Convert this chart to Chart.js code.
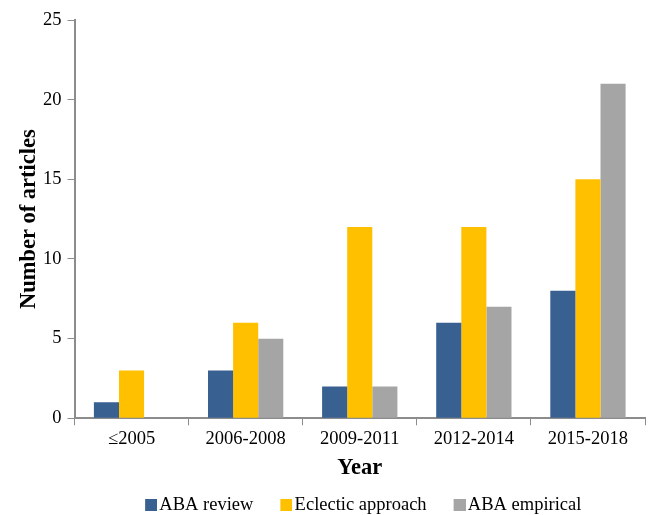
<!DOCTYPE html>
<html>
<head>
<meta charset="utf-8">
<script src="https://cdn.jsdelivr.net/npm/chart.js@4/dist/chart.umd.min.js"></script>
<style>
	body { margin: 0; background: #fff; }
	#wrap { width: 649px; height: 515px; }
</style>
</head>
<body>
<div id="wrap"><canvas id="chart1"></canvas></div>
<script>
const years = ['≤2005', '2006-2008', '2009-2011', '2012-2014', '2015-2018']
const abaReview = [1, 3, 2, 6, 8]
const eclectic = [3, 6, 12, 12, 15]
const abaEmpirical = [0, 5, 2, 7, 21]
const yTicks = [0, 5, 10, 15, 20, 25]

const serif = "'Liberation Serif', 'Times New Roman', serif"
const axisGray = '#8c8c8c'
const seriesColors = ['#386192', '#ffc000', '#a5a5a5']

// legend square drawn close to its text, like the original
function legendSquare(color) {
	const c = document.createElement('canvas')
	c.width = 26
	c.height = 12
	const ctx = c.getContext('2d')
	ctx.fillStyle = color
	ctx.fillRect(14, 0, 12, 12)
	return c
}

const chartData = {
	labels: years,
	datasets: [
		{ label: 'ABA review', data: abaReview, backgroundColor: seriesColors[0] },
		{ label: 'Eclectic approach', data: eclectic, backgroundColor: seriesColors[1] },
		{ label: 'ABA empirical', data: abaEmpirical, backgroundColor: seriesColors[2] },
	],
}

// center the legend under the plot area instead of the whole canvas
const legendUnderPlot = {
	id: 'legendUnderPlot',
	afterLayout(chart) {
		chart.legend.left = chart.chartArea.left
		chart.legend.right = chart.chartArea.right
	},
}

const optionsData = {
	responsive: true,
	maintainAspectRatio: false,
	animation: false,
	datasets: {
		bar: { categoryPercentage: 0.66, barPercentage: 1 },
	},
	layout: { padding: { top: 20, right: 4, left: 16, bottom: -9 } },
	plugins: {
		legend: {
			position: 'bottom',
			labels: {
				font: { family: serif, size: 18.5 },
				color: '#000',
				usePointStyle: true,
				boxWidth: 12,
				boxHeight: 12,
				padding: 20,
				generateLabels: chart => {
					const items = Chart.defaults.plugins.legend.labels.generateLabels(chart)
					items.forEach((item, i) => {
						item.pointStyle = legendSquare(seriesColors[i])
					})
					return items
				},
			},
		},
		tooltip: { enabled: false },
	},
	scales: {
		x: {
			grid: { drawOnChartArea: false, color: axisGray, tickLength: 7, offset: true },
			border: { color: axisGray, width: 2 },
			ticks: { font: { family: serif, size: 18.5 }, color: '#000', padding: 3 },
			title: {
				display: true,
				text: 'Year',
				font: { family: serif, size: 22.5, weight: 'bold' },
				color: '#000',
				padding: { top: 1, bottom: -6 },
			},
		},
		y: {
			min: 0,
			max: 25,
			afterBuildTicks: axis => {
				axis.ticks = yTicks.map(v => ({ value: v }))
			},
			grid: { drawOnChartArea: false, color: axisGray, tickLength: 7 },
			border: { color: axisGray, width: 2 },
			ticks: { font: { family: serif, size: 18.5 }, color: '#000', padding: 6 },
			title: {
				display: true,
				text: 'Number of articles',
				font: { family: serif, size: 22.5, weight: 'bold' },
				color: '#000',
				padding: { top: 0, bottom: -6 },
			},
		},
	},
}

new Chart('chart1', { type: 'bar', data: chartData, options: optionsData, plugins: [legendUnderPlot] })
</script>
</body>
</html>
